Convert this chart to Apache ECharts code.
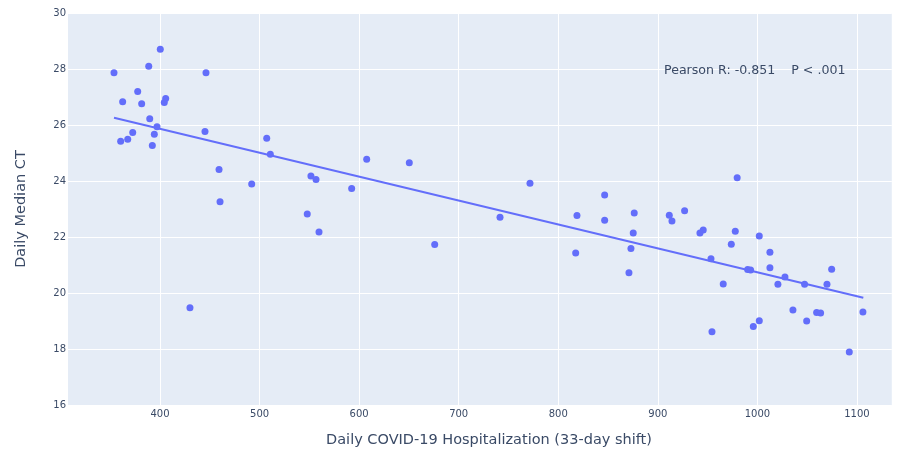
<!DOCTYPE html>
<html><head><meta charset="utf-8">
<script src="https://cdn.jsdelivr.net/npm/echarts@6/dist/echarts.min.js"></script>
<style>html,body{margin:0;padding:0;background:#fff}#c{width:905px;height:454px}</style>
</head><body><div id="c"></div>
<script>
// Daily COVID-19 hospitalization (33-day shift) vs daily median CT
const hospitalizations = [400.3,388.7,353.8,446.2,377.6,362.5,381.6,405.7,404.3,389.7,
  397,445.2,372.6,394.3,360.5,367.6,392.3,507.2,510.8,459.3,
  492.1,460.3,430.1,607.6,650.4,551.6,556.7,592.5,771.6,547.9,
  559.7,741.5,675.9,846.6,818.8,846.6,876.3,911.5,914.2,926.9,
  945.6,942.3,875.3,873,817.5,871,953.4,979.7,977.8,1001.9,
  973.8,1012.6,990.2,993.2,1012.6,1027.7,1074.6,965.7,1020.6,1047.4,
  1069.9,1035.7,1059.5,1063.5,1106,1001.9,995.9,1049.5,954.4,1092.3];
const medianCT = [28.72,28.11,27.88,27.88,27.21,26.84,26.77,26.96,26.81,26.23,
  25.95,25.78,25.74,25.68,25.43,25.50,25.28,25.54,24.97,24.42,
  23.90,23.27,19.48,24.79,24.66,24.19,24.06,23.74,23.93,22.83,
  22.19,22.72,21.74,23.51,22.78,22.61,22.87,22.79,22.58,22.95,
  22.26,22.15,22.15,21.60,21.44,20.73,21.23,24.13,22.22,22.05,
  21.75,21.47,20.85,20.83,20.91,20.58,20.86,20.33,20.32,20.32,
  20.32,19.40,19.31,19.30,19.33,19.02,18.81,19.01,18.63,17.90];
const fitLineX = [353.8, 1106.4];
const fitLineY = [26.27, 19.84];
const xTickLabels = [400,500,600,700,800,900,1000,1100];
const yTickLabels = [16,18,20,22,24,26,28,30];
const xTitle = 'Daily COVID-19 Hospitalization (33-day shift)';
const yTitle = 'Daily Median CT';
const annotationText = 'Pearson R: -0.851    P < .001';

const FONT = "'DejaVu Sans', Verdana, sans-serif";
const TXT = '#3a4a66';
const chart = echarts.init(document.getElementById('c'), null, {renderer: 'canvas'});
chart.setOption({
  animation: false,
  backgroundColor: '#ffffff',
  grid: {left: 60.43, right: 13.2, top: 13.3, bottom: 48.7, containLabel: false},
  graphic: {
    z: 50,
    elements: [
      {type: 'rect', z: -100, silent: true, shape: {x: 68, y: 13.3, width: 891.8 - 68, height: 392}, style: {fill: '#e5ecf6'}},
      {type: 'text', z: 100, x: 664, y: 71, silent: true, style: {text: annotationText, font: '12.6px ' + FONT, fill: TXT, verticalAlign: 'middle', align: 'left'}},
      {type: 'text', z: 100, x: 489, y: 440, silent: true, style: {text: xTitle, font: '14.5px ' + FONT, fill: TXT, verticalAlign: 'middle', align: 'center'}},
      {type: 'text', z: 100, x: 21, y: 209, rotation: Math.PI / 2, silent: true, style: {text: yTitle, font: '14.5px ' + FONT, fill: TXT, verticalAlign: 'middle', align: 'center'}}
    ]
  },
  xAxis: {
    type: 'value', min: 300, max: 1135, interval: 100,
    axisLine: {show: false}, axisTick: {show: false},
    splitLine: {show: true, lineStyle: {color: '#ffffff', width: 1}},
    axisLabel: {margin: 4, fontSize: 10, fontFamily: FONT, color: TXT,
      formatter: v => xTickLabels.includes(v) ? String(v) : ''}
  },
  yAxis: {
    type: 'value', min: 16, max: 30, interval: 2, offset: -7.6,
    axisLine: {show: false}, axisTick: {show: false},
    splitLine: {show: true, lineStyle: {color: '#ffffff', width: 1}},
    axisLabel: {margin: 2, fontSize: 10, fontFamily: FONT, color: TXT,
      formatter: v => yTickLabels.includes(v) ? String(v) : ''}
  },
  series: [
    {type: 'scatter', symbol: 'circle', symbolSize: 7,
      itemStyle: {color: '#636efa', opacity: 1},
      data: hospitalizations.map((x, i) => [x, medianCT[i]]), z: 3},
    {type: 'line', showSymbol: false, symbol: 'none',
      lineStyle: {color: '#636efa', width: 2},
      data: fitLineX.map((x, i) => [x, fitLineY[i]]), z: 2}
  ]
});
</script>
</body></html>
